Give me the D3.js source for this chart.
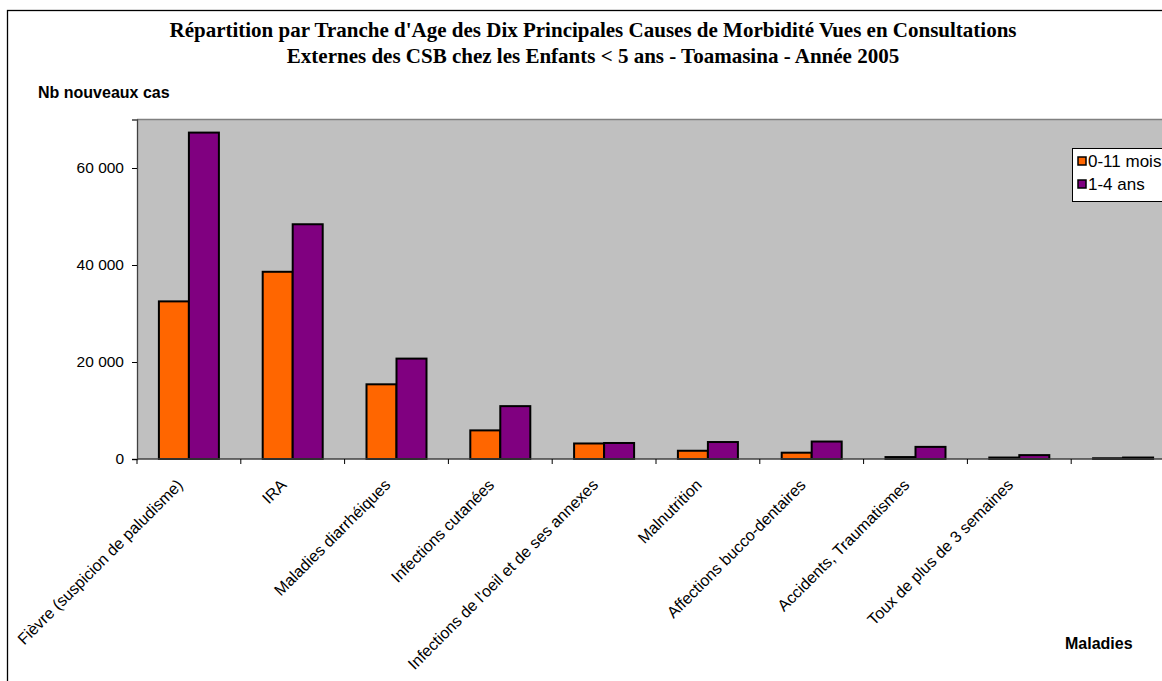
<!DOCTYPE html>
<html>
<head>
<meta charset="utf-8">
<script src="https://cdn.jsdelivr.net/npm/d3@7"></script>
<style>
  html, body { margin: 0; padding: 0; background: #fff; overflow: hidden; }
  svg { display: block; }
</style>
</head>
<body>
<script>
const categories = [
  "Fièvre (suspicion de paludisme)",
  "IRA",
  "Maladies diarrhéiques",
  "Infections cutanées",
  "Infections de l'oeil et de ses annexes",
  "Malnutrition",
  "Affections bucco-dentaires",
  "Accidents, Traumatismes",
  "Toux de plus de 3 semaines",
  ""
];
const seriesNames = ["0-11 mois", "1-4 ans"];
const values011 = [32500, 38600, 15400, 5900, 3200, 1700, 1300, 400, 300, 150];
const values14  = [67300, 48400, 20700, 10900, 3300, 3500, 3600, 2500, 800, 300];
const yTicks = [0, 20000, 40000, 60000];
const colors = ["#FF6600", "#800080"];
const titleLines = [
  "Répartition par Tranche d'Age des Dix Principales Causes de Morbidité Vues en Consultations",
  "Externes des CSB chez les Enfants < 5 ans - Toamasina - Année 2005"
];

const W = 1162, H = 681;
const svg = d3.select("body").append("svg").attr("width", W).attr("height", H);

// outer chart frame (extends past window)
svg.append("rect").attr("x", 7.5).attr("y", 10.5).attr("width", W + 20).attr("height", H + 20)
  .attr("fill", "#fff").attr("stroke", "#000").attr("stroke-width", 1.3);

const plot = { left: 137, top: 119.5, bottom: 459, step: 103.8 };
const plotRight = plot.left + plot.step * categories.length;

const x0 = d3.scaleBand().domain(categories).range([plot.left, plotRight]).paddingInner(0).paddingOuter(0);
const x1 = d3.scaleBand().domain(seriesNames).range([0, x0.bandwidth()]).paddingInner(0).paddingOuter(0.73);
const y = d3.scaleLinear().domain([0, 70000]).range([plot.bottom, plot.top]);

// plot background
svg.append("rect").attr("x", plot.left).attr("y", plot.top)
  .attr("width", plotRight - plot.left).attr("height", plot.bottom - plot.top)
  .attr("fill", "#C0C0C0");
svg.append("line").attr("x1", plot.left).attr("x2", plotRight).attr("y1", plot.top).attr("y2", plot.top)
  .attr("stroke", "#808080").attr("stroke-width", 1.5);

// bars
const rows = categories.map((c, i) => ({ cat: c, vals: [values011[i], values14[i]] }));
const g = svg.append("g");
rows.forEach(r => {
  r.vals.forEach((v, j) => {
    g.append("rect")
      .attr("x", x0(r.cat) + x1(seriesNames[j]))
      .attr("y", y(v))
      .attr("width", x1.bandwidth())
      .attr("height", y(0) - y(v))
      .attr("fill", colors[j])
      .attr("stroke", "#000")
      .attr("stroke-width", 2);
  });
});

// y axis
const yAxis = d3.axisLeft(y).tickValues(yTicks).tickSize(5).tickPadding(8)
  .tickFormat(d => d3.format(",")(d).replace(/,/g, " "));
const ya = svg.append("g").attr("transform", `translate(${plot.left},0)`).call(yAxis);
ya.select(".domain").attr("stroke", "#404040").attr("stroke-width", 1.3);
ya.selectAll(".tick line").attr("stroke", "#000");
ya.selectAll("text").attr("font-family", "Liberation Sans, Arial, sans-serif").attr("font-size", 15.5).attr("fill", "#000");

// x axis line and boundary ticks
svg.append("line").attr("x1", plot.left).attr("x2", plotRight).attr("y1", plot.bottom).attr("y2", plot.bottom)
  .attr("stroke", "#404040").attr("stroke-width", 1.3);
const bounds = categories.map(c => x0(c)).concat([plotRight]);
svg.append("g").selectAll("line").data(bounds).join("line")
  .attr("x1", d => d).attr("x2", d => d).attr("y1", plot.bottom).attr("y2", plot.bottom + 5)
  .attr("stroke", "#000").attr("stroke-width", 1);

// category labels
svg.append("g").selectAll("text").data(categories).join("text")
  .attr("transform", d => `translate(${x0(d) + x0.bandwidth() / 2 - 9},${plot.bottom + 23}) rotate(-45)`)
  .attr("text-anchor", "end").attr("dy", "0.35em")
  .attr("font-family", "Liberation Sans, Arial, sans-serif").attr("font-size", 16)
  .text(d => d);

// titles
svg.append("g").selectAll("text").data(titleLines).join("text")
  .attr("x", 593).attr("y", (d, i) => 37 + i * 26)
  .attr("text-anchor", "middle")
  .attr("font-family", "Liberation Serif, Times New Roman, serif").attr("font-weight", "bold").attr("font-size", 21)
  .text(d => d);

svg.append("text").attr("x", 38).attr("y", 98)
  .attr("font-family", "Liberation Sans, Arial, sans-serif").attr("font-weight", "bold").attr("font-size", 16)
  .text("Nb nouveaux cas");
svg.append("text").attr("x", 1065).attr("y", 649)
  .attr("font-family", "Liberation Sans, Arial, sans-serif").attr("font-weight", "bold").attr("font-size", 16)
  .text("Maladies");

// legend (cut by window edge like reference)
const leg = svg.append("g").attr("transform", "translate(1072,148)");
leg.append("rect").attr("x", 0.5).attr("y", 0.5).attr("width", 120).attr("height", 53)
  .attr("fill", "#fff").attr("stroke", "#000").attr("stroke-width", 1);
seriesNames.forEach((s, i) => {
  leg.append("rect").attr("x", 6).attr("y", 9 + i * 23).attr("width", 8).attr("height", 8)
    .attr("fill", colors[i]).attr("stroke", "#000").attr("stroke-width", 1.5);
  leg.append("text").attr("x", 16).attr("y", 19 + i * 23)
    .attr("font-family", "Liberation Sans, Arial, sans-serif").attr("font-size", 17)
    .text(s);
});
</script>
</body>
</html>
